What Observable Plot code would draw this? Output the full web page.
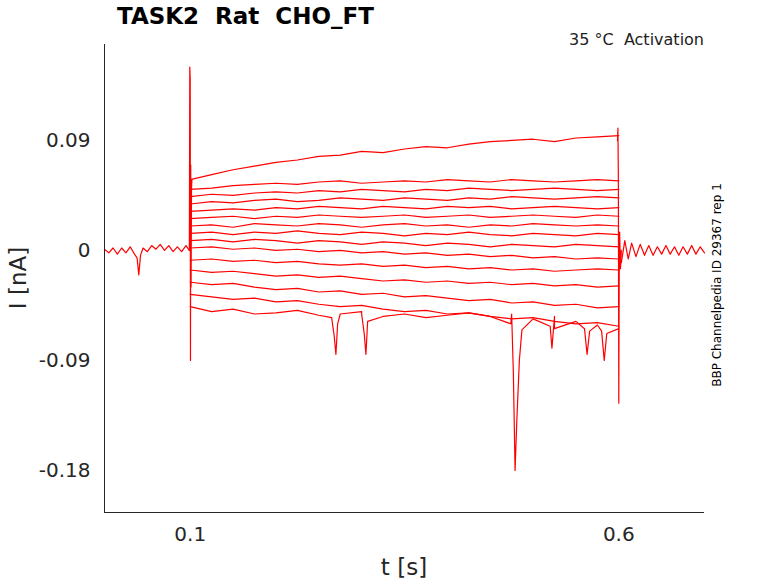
<!DOCTYPE html>
<html><head><meta charset="utf-8">
<script src="https://cdn.jsdelivr.net/npm/d3@7"></script>
<script src="https://cdn.jsdelivr.net/npm/@observablehq/plot@0.6"></script>
<style>
body{margin:0;background:#fff;font-family:"DejaVu Sans",sans-serif;}
#wrap{position:relative;width:778px;height:583px;}
.t{position:absolute;color:#000;white-space:nowrap;}
</style></head><body>
<div id="wrap">
<div class="t" style="left:117px;top:3px;font-size:23px;font-weight:bold;">TASK2&nbsp; Rat&nbsp; CHO_FT</div>
<div class="t" style="right:74px;top:30px;font-size:16px;color:#222">35 °C&nbsp; Activation</div>
<div class="t" style="left:717px;top:285px;font-size:12px;transform:translate(-50%,-50%) rotate(-90deg);">BBP Channelpedia ID 29367 rep 1</div>
<div class="t" style="left:18px;top:278px;font-size:23px;color:#262626;transform:translate(-50%,-50%) rotate(-90deg);">I [nA]</div>
<div class="t" style="left:404px;top:567px;font-size:23px;color:#262626;transform:translate(-50%,-50%);">t [s]</div>
<div id="chart" style="position:absolute;left:0;top:0"></div>
</div>
<script>
const stepT = [0.1,0.125,0.15,0.175,0.2,0.225,0.25,0.275,0.3,0.325,0.35,0.375,0.4,0.425,0.45,0.475,0.5,0.525,0.55,0.575,0.6];
const traces = [
 [0.058,0.062,0.066,0.069,0.072,0.074,0.077,0.078,0.081,0.080,0.083,0.085,0.084,0.087,0.089,0.090,0.091,0.089,0.092,0.093,0.094],
 [0.050,0.051,0.053,0.054,0.055,0.054,0.056,0.057,0.055,0.056,0.057,0.056,0.058,0.057,0.056,0.058,0.057,0.056,0.057,0.058,0.057],
 [0.044,0.046,0.045,0.047,0.048,0.047,0.049,0.048,0.050,0.049,0.048,0.050,0.049,0.051,0.050,0.049,0.050,0.051,0.050,0.049,0.050],
 [0.038,0.040,0.039,0.041,0.042,0.040,0.041,0.043,0.042,0.041,0.043,0.042,0.041,0.043,0.042,0.044,0.043,0.042,0.043,0.044,0.043],
 [0.032,0.033,0.034,0.033,0.035,0.034,0.036,0.035,0.034,0.036,0.035,0.034,0.036,0.035,0.036,0.034,0.035,0.036,0.035,0.034,0.035],
 [0.026,0.027,0.028,0.026,0.028,0.027,0.029,0.028,0.027,0.028,0.029,0.027,0.028,0.029,0.027,0.028,0.029,0.028,0.027,0.029,0.028],
 [0.020,0.021,0.019,0.022,0.021,0.020,0.022,0.021,0.019,0.021,0.022,0.020,0.021,0.019,0.021,0.020,0.022,0.021,0.020,0.021,0.020],
 [0.014,0.015,0.013,0.015,0.014,0.016,0.014,0.013,0.015,0.014,0.012,0.014,0.013,0.015,0.013,0.012,0.014,0.013,0.012,0.014,0.013],
 [0.008,0.009,0.007,0.009,0.008,0.006,0.008,0.007,0.005,0.007,0.006,0.004,0.006,0.005,0.003,0.005,0.004,0.003,0.005,0.004,0.003],
 [0.002,0.003,0.001,0.002,0.000,0.001,-0.001,0.000,-0.002,-0.001,-0.003,-0.002,-0.004,-0.003,-0.005,-0.004,-0.006,-0.005,-0.007,-0.006,-0.007],
 [-0.008,-0.007,-0.009,-0.008,-0.010,-0.009,-0.011,-0.012,-0.011,-0.013,-0.012,-0.014,-0.013,-0.015,-0.014,-0.016,-0.015,-0.017,-0.016,-0.015,-0.016],
 [-0.016,-0.018,-0.017,-0.019,-0.021,-0.020,-0.022,-0.021,-0.023,-0.025,-0.024,-0.026,-0.025,-0.027,-0.026,-0.028,-0.027,-0.029,-0.028,-0.030,-0.029],
 [-0.026,-0.028,-0.027,-0.030,-0.032,-0.031,-0.034,-0.033,-0.036,-0.035,-0.038,-0.037,-0.039,-0.041,-0.040,-0.043,-0.042,-0.045,-0.044,-0.047,-0.046],
 [-0.036,-0.038,-0.040,-0.039,-0.042,-0.041,-0.044,-0.046,-0.045,-0.048,-0.050,-0.049,-0.052,-0.051,-0.054,-0.056,-0.055,-0.058,-0.060,-0.059,-0.062],
 [-0.046,-0.050,-0.048,-0.052,-0.051,-0.049,-0.053,-0.052,-0.050,-0.054,-0.052,-0.055,-0.053,-0.051,-0.054,-0.052,-0.056,-0.054,-0.058,-0.061,-0.064]
];
const dipT = [0.265,0.268,0.27,0.272,0.3,0.303,0.305,0.307,0.474,0.477,0.479,0.481,0.484,0.487,0.52,0.522,0.525,0.56,0.563,0.566,0.58,0.583,0.586];
const dipV = [-0.055,-0.07,-0.085,-0.06,-0.052,-0.068,-0.085,-0.058,-0.06,-0.1,-0.18,-0.14,-0.09,-0.065,-0.062,-0.08,-0.064,-0.064,-0.085,-0.066,-0.066,-0.09,-0.068];
const preT = [0,0.005,0.01,0.015,0.02,0.025,0.03,0.035,0.038,0.04,0.042,0.045,0.05,0.055,0.06,0.065,0.07,0.075,0.08,0.085,0.09,0.095,0.099];
const preV = [0.001,-0.002,0.002,-0.003,0.002,-0.002,0.003,-0.003,-0.006,-0.02,-0.004,0.002,-0.001,0.004,0.001,0.005,0.000,0.004,-0.001,0.003,-0.001,0.004,0.0];
const onT = [0.099,0.0995,0.1,0.1003,0.1006,0.101,0.1015,0.102];
const onV = [0.0,0.15,0.14,-0.09,0.07,-0.03,0.05,0.058];
const offT = [0.5985,0.599,0.5995,0.6,0.6005,0.601,0.602,0.603];
const offV = [0.09,0.1,0.06,-0.125,-0.02,0.015,-0.015,0.0];
const postT = [0.603,0.607,0.611,0.615,0.62,0.625,0.63,0.635,0.64,0.645,0.65,0.655,0.66,0.665,0.67,0.675,0.68,0.685,0.69,0.695,0.7];
const postV = [-0.01,0.008,-0.007,0.006,-0.005,0.005,-0.004,0.004,-0.004,0.003,-0.003,0.004,-0.003,0.003,-0.004,0.003,-0.003,0.004,-0.003,0.003,-0.002];

const rows = [];
traces.forEach((vals,i)=>{
  const pts = stepT.map((t,j)=>({t,v:vals[j]}));
  if(i===traces.length-1) dipT.forEach((t,j)=>pts.push({t,v:dipV[j]}));
  pts.sort((a,b)=>a.t-b.t);
  pts.forEach(p=>rows.push({...p,id:"s"+i}));
});
preT.forEach((t,j)=>rows.push({t,v:preV[j],id:"pre"}));
onT.forEach((t,j)=>rows.push({t,v:onV[j],id:"on"}));
offT.forEach((t,j)=>rows.push({t,v:offV[j],id:"off"}));
postT.forEach((t,j)=>rows.push({t,v:postV[j],id:"post"}));

const yTicks=[0.09,0,-0.09,-0.18];
const xTicks=[0.1,0.6];
const chart = Plot.plot({
  width:778,height:583,
  marginLeft:104,marginRight:74,marginTop:44,marginBottom:71,
  x:{domain:[0,0.7],ticks:xTicks,tickFormat:d=>String(d),label:null},
  y:{domain:[-0.2144,0.1685],ticks:yTicks,tickFormat:d=>String(d),label:null},
  style:{fontSize:"20px",fontFamily:"DejaVu Sans",color:"#262626"},
  marks:[
    Plot.axisY({ticks:yTicks,tickFormat:d=>String(d),tickSize:0,tickPadding:14,label:null,fontSize:20}),
    Plot.axisX({ticks:xTicks,tickFormat:d=>String(d),tickSize:0,tickPadding:14,label:null,fontSize:20}),
    Plot.line(rows,{x:"t",y:"v",z:"id",stroke:"#ff0000",strokeWidth:1.2}),
    Plot.ruleX([0],{stroke:"#262626"}),
    Plot.ruleY([-0.2144],{stroke:"#262626"})
  ]
});
document.getElementById("chart").appendChild(chart);
</script>
</body></html>
